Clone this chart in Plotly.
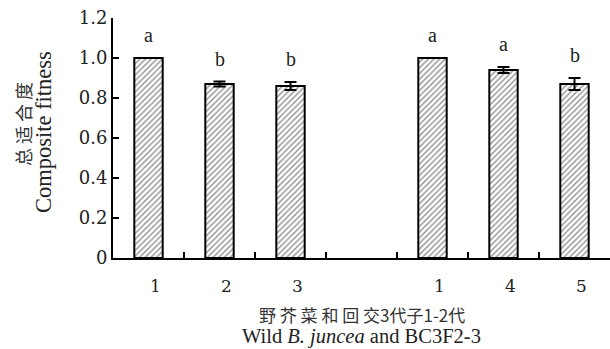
import plotly.graph_objects as go

labels = ["1", "2", "3", "", "1", "4", "5"]
values = [1.00, 0.87, 0.86, None, 1.00, 0.94, 0.87]
errors = [0.0, 0.012, 0.02, 0.0, 0.0, 0.015, 0.03]
letters = ["a", "b", "b", "", "a", "a", "b"]
yticks = [0, 0.2, 0.4, 0.6, 0.8, 1.0, 1.2]
yticktext = ["0", "0.2", "0.4", "0.6", "0.8", "1.0", "1.2"]

xs = list(range(len(labels)))
FONT = "Liberation Serif, Times New Roman, serif"
TICKFONT = "DejaVu Serif"
CJK = "Noto Sans CJK SC"

fig = go.Figure()
fig.add_trace(go.Bar(
    x=xs, y=values, width=0.4,
    marker=dict(color="white", line=dict(color="black", width=2),
                pattern=dict(shape="/", size=4, solidity=0.35, fgcolor="#222", bgcolor="white")),
    error_y=dict(type="data", array=errors, color="black", thickness=2, width=6, visible=True),
    showlegend=False, hoverinfo="skip",
))

for x, v, e, t in zip(xs, values, errors, letters):
    if t and v is not None:
        fig.add_annotation(x=x, y=v + e, text=t, showarrow=False, yanchor="bottom", yshift=10,
                           font=dict(family=FONT, size=20, color="#222"))

fig.add_annotation(xref="paper", yref="paper", x=0, y=0.5, xshift=-90, yshift=14, xanchor="center",
                   yanchor="middle", text="总 适 合 度",
                   textangle=-90, showarrow=False, font=dict(family=CJK, size=18, color="#333"))
fig.add_annotation(xref="paper", yref="paper", x=0, y=0.5, xshift=-70, yshift=6, xanchor="center",
                   yanchor="middle", text="Composite fitness",
                   textangle=-90, showarrow=False, font=dict(family=FONT, size=22.5, color="#222"))
fig.add_annotation(xref="paper", yref="paper", x=0.5, y=0, yshift=-42, text="野 芥 菜 和 回 交3代子1-2代",
                   showarrow=False, yanchor="top", font=dict(family=CJK, size=17, color="#333"))
fig.add_annotation(xref="paper", yref="paper", x=0.5, y=0, yshift=-65, yanchor="top",
                   text="Wild <i>B. juncea</i> and BC3F2-3",
                   showarrow=False, font=dict(family=FONT, size=20.5, color="#222"))

fig.update_layout(
    width=610, height=349, margin=dict(l=113, r=0, t=18, b=91, autoexpand=False),
    paper_bgcolor="white", plot_bgcolor="white",
    font=dict(family=FONT, size=19, color="#222"),
    xaxis=dict(range=[-0.5, 6.5], tickvals=xs, ticktext=labels, ticks="", automargin=False,
               showline=True, linecolor="black", linewidth=2, showgrid=False, zeroline=False,
               ticklabelshift=7, ticklabelstandoff=12,
               tickfont=dict(family=TICKFONT, size=17, color="#222"),
               minor=dict(tickvals=[0.5, 1.5, 2.5, 3.5, 4.5, 5.5], ticks="inside", ticklen=6,
                          tickcolor="black", tickwidth=2, showgrid=False)),
    yaxis=dict(range=[0, 1.2], tickvals=yticks, ticktext=yticktext, ticks="inside", ticklen=6,
               tickwidth=2, tickcolor="black", showline=True, linecolor="black", linewidth=2,
               automargin=False, tickfont=dict(family=TICKFONT, size=18, color="#222"),
               showgrid=False, zeroline=False, ticksuffix="\u00a0\u00a0\u00a0"),
)

fig.write_html("out.html", post_script="document.body.style.margin='0';",
               config={"displayModeBar": False})
